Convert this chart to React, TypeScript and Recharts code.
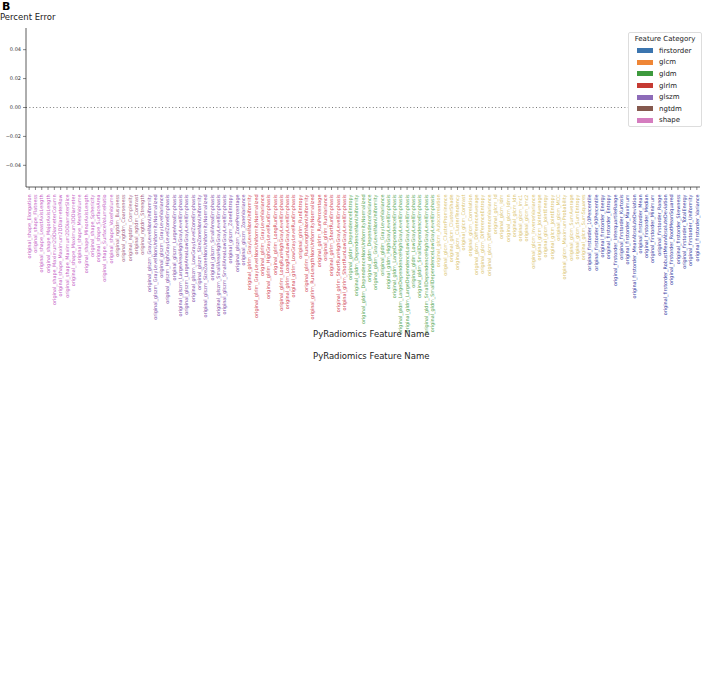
import { BarChart, Bar, Cell, XAxis, YAxis, ReferenceLine } from "recharts";

// feature names per PyRadiomics class, in axis order
const shapeFeatures = [
  "Elongation", "Flatness", "LeastAxisLength", "MajorAxisLength", "Maximum2DDiameterColumn",
  "Maximum2DDiameterRow", "Maximum2DDiameterSlice", "Maximum3DDiameter", "MeshVolume",
  "MinorAxisLength", "Sphericity", "SurfaceArea", "SurfaceVolumeRatio", "VoxelVolume",
];
const ngtdmFeatures = ["Busyness", "Coarseness", "Complexity", "Contrast", "Strength"];
const glszmFeatures = [
  "GrayLevelNonUniformity", "GrayLevelNonUniformityNormalized", "GrayLevelVariance",
  "HighGrayLevelZoneEmphasis", "LargeAreaEmphasis", "LargeAreaHighGrayLevelEmphasis",
  "LargeAreaLowGrayLevelEmphasis", "LowGrayLevelZoneEmphasis", "SizeZoneNonUniformity",
  "SizeZoneNonUniformityNormalized", "SmallAreaEmphasis", "SmallAreaHighGrayLevelEmphasis",
  "SmallAreaLowGrayLevelEmphasis", "ZoneEntropy", "ZonePercentage", "ZoneVariance",
];
const glrlmFeatures = [
  "GrayLevelNonUniformity", "GrayLevelNonUniformityNormalized", "GrayLevelVariance",
  "HighGrayLevelRunEmphasis", "LongRunEmphasis", "LongRunHighGrayLevelEmphasis",
  "LongRunLowGrayLevelEmphasis", "LowGrayLevelRunEmphasis", "RunEntropy",
  "RunLengthNonUniformity", "RunLengthNonUniformityNormalized", "RunPercentage",
  "RunVariance", "ShortRunEmphasis", "ShortRunHighGrayLevelEmphasis", "ShortRunLowGrayLevelEmphasis",
];
const gldmFeatures = [
  "DependenceEntropy", "DependenceNonUniformity", "DependenceNonUniformityNormalized",
  "DependenceVariance", "GrayLevelNonUniformity", "GrayLevelVariance", "HighGrayLevelEmphasis",
  "LargeDependenceEmphasis", "LargeDependenceHighGrayLevelEmphasis",
  "LargeDependenceLowGrayLevelEmphasis", "LowGrayLevelEmphasis", "SmallDependenceEmphasis",
  "SmallDependenceHighGrayLevelEmphasis", "SmallDependenceLowGrayLevelEmphasis",
];
const glcmFeatures = [
  "Autocorrelation", "ClusterProminence", "ClusterShade", "ClusterTendency", "Contrast",
  "Correlation", "DifferenceAverage", "DifferenceEntropy", "DifferenceVariance", "Id", "Idm",
  "Idmn", "Idn", "Imc1", "Imc2", "InverseVariance", "JointAverage", "JointEnergy",
  "JointEntropy", "MCC", "MaximumProbability", "SumAverage", "SumEntropy", "SumSquares",
];
const firstorderFeatures = [
  "10Percentile", "90Percentile", "Energy", "Entropy", "InterquartileRange", "Kurtosis",
  "Maximum", "MeanAbsoluteDeviation", "Mean", "Median", "Minimum", "Range",
  "RobustMeanAbsoluteDeviation", "RootMeanSquared", "Skewness", "TotalEnergy", "Uniformity", "Variance",
];

// percent error per feature (all zero in the figure)
const shapeError = [0, 0, 0, 0, 0, 0, 0, 0, 0, 0, 0, 0, 0, 0];
const ngtdmError = [0, 0, 0, 0, 0];
const glszmError = [0, 0, 0, 0, 0, 0, 0, 0, 0, 0, 0, 0, 0, 0, 0, 0];
const glrlmError = [0, 0, 0, 0, 0, 0, 0, 0, 0, 0, 0, 0, 0, 0, 0, 0];
const gldmError = [0, 0, 0, 0, 0, 0, 0, 0, 0, 0, 0, 0, 0, 0];
const glcmError = [0, 0, 0, 0, 0, 0, 0, 0, 0, 0, 0, 0, 0, 0, 0, 0, 0, 0, 0, 0, 0, 0, 0, 0];
const firstorderError = [0, 0, 0, 0, 0, 0, 0, 0, 0, 0, 0, 0, 0, 0, 0, 0, 0, 0];

const yTicks = [-0.04, -0.02, 0, 0.02, 0.04];
const legendOrder = ["firstorder", "glcm", "gldm", "glrlm", "glszm", "ngtdm", "shape"];

const patchColors: Record<string, string> = {
  firstorder: "#3b75af",
  glcm: "#ef8636",
  gldm: "#3d9a3d",
  glrlm: "#c53a32",
  glszm: "#8d6bb8",
  ngtdm: "#85594e",
  shape: "#d57dbf",
};
const labelColors: Record<string, string> = {
  firstorder: "#3a42a6",
  glcm: "#d9c470",
  gldm: "#5aa95a",
  glrlm: "#d24a5c",
  glszm: "#8150ac",
  ngtdm: "#a45f86",
  shape: "#c35fc6",
};

const groups: [string, string[], number[]][] = [
  ["shape", shapeFeatures, shapeError],
  ["ngtdm", ngtdmFeatures, ngtdmError],
  ["glszm", glszmFeatures, glszmError],
  ["glrlm", glrlmFeatures, glrlmError],
  ["gldm", gldmFeatures, gldmError],
  ["glcm", glcmFeatures, glcmError],
  ["firstorder", firstorderFeatures, firstorderError],
];

const data = groups.flatMap(([cat, names, errs]) =>
  names.map((n, i) => ({ name: `original_${cat}_${n}`, category: cat, error: errs[i] }))
);

const fmt = (v: number) => (v < 0 ? "\u2212" + Math.abs(v).toFixed(2) : v.toFixed(2));

function FeatureTick({ x, y, payload }: any) {
  const row = data[payload.index];
  return (
    <text
      x={0}
      y={0}
      transform={`translate(${x + 1.7},${y + 2.5}) rotate(-90)`}
      textAnchor="end"
      fontSize={4.9}
      fill={labelColors[row.category]}
    >
      {payload.value}
    </text>
  );
}

function CategoryLegend() {
  return (
    <div
      style={{
        position: "absolute",
        left: 628,
        top: 32,
        border: "1px solid #ddd",
        borderRadius: 2,
        background: "#fff",
        width: 74,
        height: 95,
        boxSizing: "border-box",
        padding: "1px 3px",
        fontSize: 7,
        color: "#222",
      }}
    >
      <div style={{ textAlign: "center", lineHeight: "11px" }}>Feature Category</div>
      {legendOrder.map((c) => (
        <div key={c} style={{ display: "flex", alignItems: "center", height: 11.6 }}>
          <span style={{ width: 16, height: 5, background: patchColors[c], marginLeft: 5, marginRight: 6 }} />
          <span>{c}</span>
        </div>
      ))}
    </div>
  );
}

export default function App() {
  return (
    <div
      style={{
        position: "absolute",
        left: 0,
        top: 0,
        width: 708,
        height: 686,
        background: "#fff",
        fontFamily: "DejaVu Sans",
      }}
    >
      <BarChart
        width={708}
        height={686}
        data={data}
        margin={{ top: 28, right: 8, left: 0, bottom: 299 }}
      >
        <XAxis
          dataKey="name"
          interval={0}
          height={200}
          tick={<FeatureTick />}
          tickSize={3}
          axisLine={{ stroke: "#333", strokeWidth: 0.8 }}
          tickLine={{ stroke: "#333", strokeWidth: 0.6 }}
        />
        <YAxis
          domain={[-0.055, 0.055]}
          ticks={yTicks}
          tickFormatter={fmt}
          width={26}
          tickSize={3}
          tickMargin={2}
          tick={{ fontSize: 5, fill: "#333" }}
          axisLine={{ stroke: "#333", strokeWidth: 0.8 }}
          tickLine={{ stroke: "#333", strokeWidth: 0.6 }}
        />
        <ReferenceLine y={0} stroke="#777" strokeWidth={1} strokeDasharray="1 2.4" />
        <Bar dataKey="error" isAnimationActive={false}>
          {data.map((d, i) => (
            <Cell key={i} fill={patchColors[d.category]} />
          ))}
        </Bar>
      </BarChart>
      <div style={{ position: "absolute", left: 2, top: 1, fontSize: 11, lineHeight: "11px", fontWeight: "bold" }}>B</div>
      <div style={{ position: "absolute", left: 0, top: 13, fontSize: 8.5, lineHeight: "9px", color: "#222" }}>
        Percent Error
      </div>
      <CategoryLegend />
      <div style={{ position: "absolute", left: 313, top: 329, fontSize: 8.5, color: "#222" }}>
        PyRadiomics Feature Name
      </div>
      <div style={{ position: "absolute", left: 313, top: 351, fontSize: 8.5, color: "#222" }}>
        PyRadiomics Feature Name
      </div>
    </div>
  );
}
